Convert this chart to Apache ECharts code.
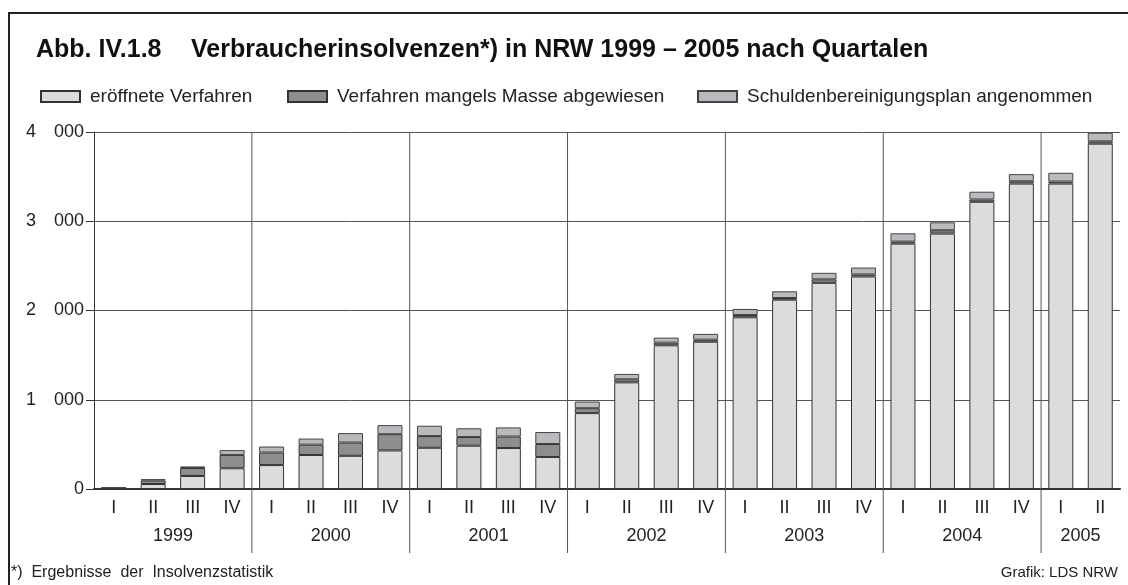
<!DOCTYPE html>
<html>
<head>
<meta charset="utf-8">
<script src="https://cdn.jsdelivr.net/npm/echarts@6/dist/echarts.min.js"></script>
<style>
    html, body { margin: 0; padding: 0; background: #fff; }
    #chart { width: 1128px; height: 585px; }
</style>
</head>
<body>
<div id="chart"></div>
<script>
// quarters 1999 I .. 2005 II
const quarters = ['I', 'II', 'III', 'IV', 'I', 'II', 'III', 'IV', 'I', 'II', 'III', 'IV',
    'I', 'II', 'III', 'IV', 'I', 'II', 'III', 'IV', 'I', 'II', 'III', 'IV', 'I', 'II'];
const years = ['1999', '2000', '2001', '2002', '2003', '2004', '2005'];
// position of each year label on the quarter scale (0..26)
const yearPos = [2, 6, 10, 14, 18, 22, 25];
// boundaries between years on the quarter scale
const yearBounds = [4, 8, 12, 16, 20, 24];

const eroeffnet = [5, 56, 146, 232, 268, 381, 372, 432, 462, 485, 459, 359,
    850, 1195, 1610, 1650, 1924, 2121, 2310, 2381, 2749, 2862, 3218, 3422, 3422, 3869];
const mangels = [8, 40, 89, 150, 141, 116, 149, 182, 131, 98, 129, 145,
    55, 34, 30, 23, 26, 19, 39, 23, 23, 37, 26, 26, 23, 26];
const plan = [2, 14, 18, 54, 67, 68, 105, 102, 116, 97, 102, 134,
    75, 60, 56, 65, 67, 75, 73, 77, 93, 89, 87, 80, 98, 97];

const yTicks = [0, 1000, 2000, 3000, 4000];

const chart = echarts.init(document.getElementById('chart'));
const font = 'Liberation Sans, Arial, sans-serif';

function legendAt(name, left) {
    return {
        data: [name],
        left: left,
        top: 82,
        itemWidth: 39,
        itemHeight: 11,
        itemGap: 0,
        icon: 'rect',
        textStyle: { fontFamily: font, fontSize: 19, color: '#222', padding: [0, 0, 0, 5] }
    };
}

const option = {
    backgroundColor: '#fff',
    animation: false,
    title: [
        {
            text: 'Abb. IV.1.8',
            left: 31,
            top: 33,
            textStyle: { fontFamily: font, fontSize: 25, fontWeight: 'bold', color: '#111' }
        },
        {
            text: 'Verbraucherinsolvenzen*) in NRW 1999 – 2005 nach Quartalen',
            left: 186,
            top: 33,
            textStyle: { fontFamily: font, fontSize: 25, fontWeight: 'bold', color: '#111' }
        },
        {
            text: '*)  Ergebnisse  der  Insolvenzstatistik',
            left: 6,
            top: 560,
            textStyle: { fontFamily: font, fontSize: 16, fontWeight: 'normal', color: '#222' }
        },
        {
            text: 'Grafik: LDS NRW',
            right: 5,
            top: 560,
            textStyle: { fontFamily: font, fontSize: 15, fontWeight: 'normal', color: '#222' }
        }
    ],
    legend: [
        legendAt('eröffnete Verfahren', 35),
        legendAt('Verfahren mangels Masse abgewiesen', 282),
        legendAt('Schuldenbereinigungsplan angenommen', 692)
    ],
    graphic: [{
        type: 'rect',
        shape: { x: 9, y: 13, width: 1200, height: 700 },
        style: { fill: 'none', stroke: '#222', lineWidth: 2 },
        silent: true
    }],
    grid: {
        left: 94,
        right: 8,
        top: 132,
        bottom: 96
    },
    xAxis: [
        {
            type: 'category',
            data: quarters,
            axisLine: { lineStyle: { color: '#333', width: 2 } },
            axisTick: { show: false },
            splitLine: { show: false },
            axisLabel: {
                interval: 0,
                margin: 10,
                fontFamily: font,
                fontSize: 18,
                color: '#222'
            }
        },
        {
            type: 'value',
            position: 'bottom',
            min: 0,
            max: 26,
            interval: 1,
            axisLine: { show: false },
            axisTick: { show: false },
            splitLine: { show: false },
            axisLabel: {
                margin: 38,
                fontFamily: font,
                fontSize: 18,
                color: '#222',
                showMinLabel: true,
                showMaxLabel: true,
                formatter: (v) => {
                    const i = yearPos.indexOf(v);
                    return i >= 0 ? years[i] : '';
                }
            }
        }
    ],
    yAxis: {
        type: 'value',
        min: yTicks[0],
        max: yTicks[yTicks.length - 1],
        interval: 1000,
        axisLine: { show: true, lineStyle: { color: '#333', width: 1 } },
        axisTick: { show: true, length: 8, lineStyle: { color: '#333' } },
        splitLine: { show: true, lineStyle: { color: '#555', width: 1 } },
        axisLabel: {
            margin: 10,
            fontFamily: font,
            fontSize: 18,
            color: '#222',
            formatter: (v) => v === 0 ? '0' : (v / 1000) + '\u2003000'
        }
    },
    series: [
        {
            name: 'eröffnete Verfahren',
            type: 'bar',
            stack: 'total',
            barWidth: 25,
            data: eroeffnet,
            itemStyle: { color: '#dcdcde', borderColor: '#333', borderWidth: 1 }
        },
        {
            name: 'Verfahren mangels Masse abgewiesen',
            type: 'bar',
            stack: 'total',
            barWidth: 25,
            data: mangels,
            itemStyle: { color: '#8e8e90', borderColor: '#333', borderWidth: 1 }
        },
        {
            name: 'Schuldenbereinigungsplan angenommen',
            type: 'bar',
            stack: 'total',
            barWidth: 25,
            data: plan,
            itemStyle: { color: '#b9babd', borderColor: '#444', borderWidth: 1 }
        },
        {
            // year separators, from the top of the plot down through the year labels
            type: 'custom',
            xAxisIndex: 1,
            yAxisIndex: 0,
            clip: false,
            silent: true,
            data: yearBounds.map((b) => [b, yTicks[yTicks.length - 1]]),
            renderItem: (params, api) => {
                const top = api.coord([api.value(0), api.value(1)]);
                const base = api.coord([api.value(0), 0]);
                return {
                    type: 'line',
                    shape: { x1: top[0], y1: top[1], x2: base[0], y2: base[1] + 64 },
                    style: { stroke: '#555', lineWidth: 1 }
                };
            },
            z: 1
        }
    ]
};

chart.setOption(option);
</script>
</body>
</html>
